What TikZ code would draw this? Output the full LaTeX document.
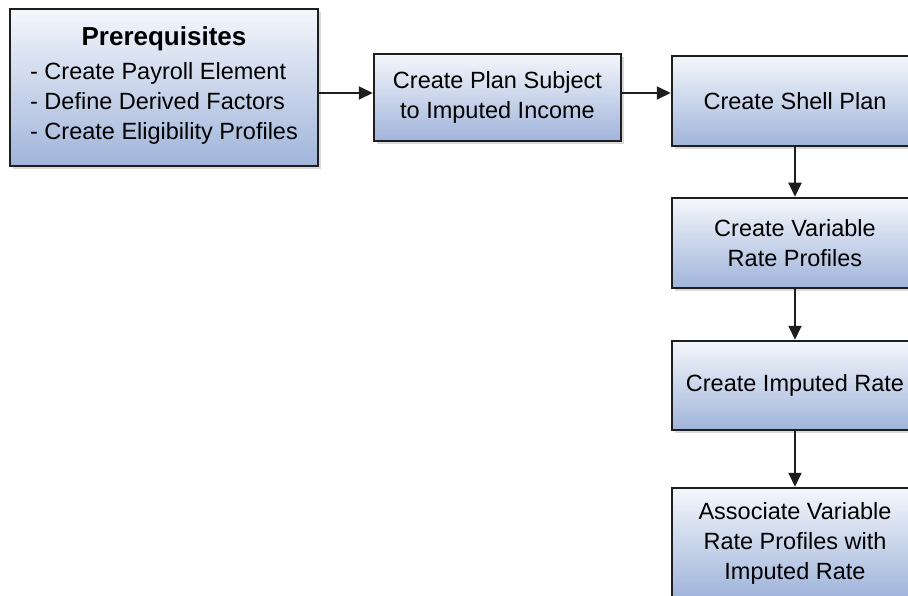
\documentclass[tikz,border=0pt]{standalone}
\usepackage{fontspec}
\setmainfont{Liberation Sans}
\usetikzlibrary{%
  arrows.meta,%
  shadows,%
  positioning%
}
\definecolor{boxtop}{RGB}{244,247,252}
\definecolor{boxbottom}{RGB}{160,180,218}
\definecolor{boxline}{RGB}{30,30,30}

\begin{document}
\begin{tikzpicture}
[x=1pt, y=-1pt, line width=2.5pt, >={Triangle[length=14pt,width=13pt]},
stepbox/.style={rectangle, draw=boxline, line width=2.5pt, inner sep=0pt,
  minimum width=246pt, top color=boxtop, bottom color=boxbottom,
  drop shadow={shadow xshift=3pt, shadow yshift=-3pt, opacity=0.3},
  align=center, font=\fontsize{23.5}{30}\selectfont},
flow/.style={->, draw=boxline, line width=2pt}]

\useasboundingbox (0,0) rectangle (908,596);

% prerequisites
\node[stepbox, minimum width=308pt, minimum height=157pt] (prereq) at (164,87.5)
  {{\bfseries\fontsize{26}{32}\selectfont Prerequisites}\\[6pt]
   \begin{tabular}{@{}l@{}}- Create Payroll Element\\- Define Derived Factors\\- Create Eligibility Profiles\end{tabular}};

% top row
\node[stepbox, minimum width=247pt, minimum height=87pt] (subject) at (497.5,97.5)
  {Create Plan Subject\\to Imputed Income};
\node[stepbox, minimum height=90pt] (shell) at (795,101) {Create Shell Plan};

% right column
\node[stepbox, minimum height=90pt] (varprof) at (795,243) {Create Variable\\Rate Profiles};
\node[stepbox, minimum height=89pt] (imprate) at (795,385.5) {Create Imputed Rate};
\node[stepbox, minimum height=110pt] (assoc) at (795,543)
  {Associate Variable\\Rate Profiles with\\Imputed Rate};

\coordinate (row) at (0,93);
\draw[flow] (prereq.east |- row) -- (subject.west |- row);
\draw[flow] (subject.east |- row) -- (shell.west |- row);
\draw[flow] (shell) -- (varprof);
\draw[flow] (varprof) -- (imprate);
\draw[flow] (imprate) -- (assoc);
\end{tikzpicture}
\end{document}
